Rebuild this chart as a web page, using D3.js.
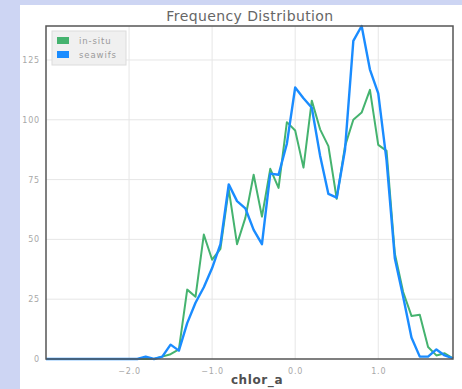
<!DOCTYPE html>
<html>
<head>
<meta charset="utf-8">
<script src="https://cdn.jsdelivr.net/npm/d3@7"></script>
<style>
  body { margin: 0; background: #cdd5f3; }
  svg { display: block; }
</style>
</head>
<body>
<svg></svg>
<script>
// bin centres -3.0 .. 1.9, step 0.1
const bins = [
  -3.0, -2.9, -2.8, -2.7, -2.6, -2.5, -2.4, -2.3, -2.2, -2.1,
  -2.0, -1.9, -1.8, -1.7, -1.6, -1.5, -1.4, -1.3, -1.2, -1.1,
  -1.0, -0.9, -0.8, -0.7, -0.6, -0.5, -0.4, -0.3, -0.2, -0.1,
  0.0, 0.1, 0.2, 0.3, 0.4, 0.5, 0.6, 0.7, 0.8, 0.9,
  1.0, 1.1, 1.2, 1.3, 1.4, 1.5, 1.6, 1.7, 1.8, 1.9,
];
const inSitu = [
  0, 0, 0, 0, 0, 0, 0, 0, 0, 0,
  0, 0, 0, 0, 1, 2, 4, 29, 26, 52,
  41.5, 46, 71, 48, 59, 77, 59.5, 79.5, 71.5, 99,
  95.5, 80, 108, 96, 89, 67, 89, 100, 103, 112.5,
  89.5, 87, 44, 28, 18, 18.5, 5, 1.5, 2.4, 0.3,
];
const seawifs = [
  0, 0, 0, 0, 0, 0, 0, 0, 0, 0,
  0, 0, 1, 0, 1, 6, 3.5, 15, 23.5, 30,
  38, 48, 73, 66, 63, 54, 48, 77.5, 77, 90,
  113.5, 109, 105, 85, 69, 67.5, 87.5, 133, 139.2, 121,
  111, 83, 42, 26, 9, 1, 1, 4, 1.5, 0.3,
];
const seriesNames = ['in-situ', 'seawifs'];
const seriesColors = ['#45b36f', '#1a8cff'];
const xTicks = [-2, -1, 0, 1];
const yTicks = [0, 25, 50, 75, 100, 125];

const width = 462;
const height = 389;
const margin = { top: 26, right: 9, bottom: 30, left: 46 };
const font = 'DejaVu Sans, sans-serif';

const svg = d3.select('svg')
  .attr('width', width)
  .attr('height', height);

// white panel over the textured page
svg.append('rect')
  .attr('x', 20).attr('y', 5)
  .attr('width', width - 20).attr('height', height - 5)
  .attr('fill', '#fff');

const x = d3.scaleLinear()
  .domain([-3.0, 1.9])
  .range([margin.left, width - margin.right]);
const y = d3.scaleLinear()
  .domain([0, d3.max(seawifs)])
  .range([height - margin.bottom, margin.top]);

// grid
svg.append('g')
  .selectAll('line')
  .data(xTicks)
  .join('line')
  .attr('x1', d => x(d)).attr('x2', d => x(d))
  .attr('y1', y.range()[0]).attr('y2', y.range()[1])
  .attr('stroke', '#e6e6e6');
svg.append('g')
  .selectAll('line')
  .data(yTicks.slice(1))
  .join('line')
  .attr('x1', x.range()[0]).attr('x2', x.range()[1])
  .attr('y1', d => y(d)).attr('y2', d => y(d))
  .attr('stroke', '#e6e6e6');

// axes
const xAxis = svg.append('g')
  .attr('transform', `translate(0,${y.range()[0]})`)
  .call(d3.axisBottom(x).tickValues(xTicks).tickSize(0).tickPadding(9)
    .tickFormat(d => d3.format('.1f')(d).replace('-', '\u2212')));
const yAxis = svg.append('g')
  .attr('transform', `translate(${x.range()[0]},0)`)
  .call(d3.axisLeft(y).tickValues(yTicks).tickSize(0).tickPadding(6));
[xAxis, yAxis].forEach(a => {
  a.select('.domain').remove();
  a.selectAll('text')
    .attr('fill', '#a8a8a8')
    .style('font-family', font)
    .style('font-size', '8px')
    .style('letter-spacing', '0.8px');
});

// lines
const line = d3.line()
  .x((d, i) => x(bins[i]))
  .y(d => y(d));
[inSitu, seawifs].forEach((s, k) => {
  svg.append('path')
    .datum(s)
    .attr('d', line)
    .attr('fill', 'none')
    .attr('stroke', seriesColors[k])
    .attr('stroke-width', k === 1 ? 2.4 : 2)
    .attr('stroke-linejoin', 'round');
});

// frame
svg.append('rect')
  .attr('x', x.range()[0]).attr('y', y.range()[1])
  .attr('width', x.range()[1] - x.range()[0])
  .attr('height', y.range()[0] - y.range()[1])
  .attr('fill', 'none')
  .attr('stroke', '#555')
  .attr('stroke-width', 1.5);

// title + axis label
svg.append('text')
  .attr('x', 250).attr('y', 21)
  .attr('text-anchor', 'middle')
  .attr('fill', '#666')
  .style('font-family', font)
  .style('font-size', '14px')
  .style('letter-spacing', '0.4px')
  .text('Frequency Distribution');
svg.append('text')
  .attr('x', 257).attr('y', 384)
  .attr('text-anchor', 'middle')
  .attr('fill', '#505050')
  .style('font-family', font)
  .style('font-size', '12px')
  .style('font-weight', 'bold')
  .style('letter-spacing', '0.6px')
  .text('chlor_a');

// legend
const legend = svg.append('g').attr('transform', 'translate(52,31)');
legend.append('rect')
  .attr('width', 74).attr('height', 34)
  .attr('fill', '#f0f0f0')
  .attr('stroke', '#dcdcdc');
seriesNames.forEach((name, k) => {
  legend.append('rect')
    .attr('x', 5).attr('y', 6 + k * 14)
    .attr('width', 12).attr('height', 7)
    .attr('fill', seriesColors[k]);
  legend.append('text')
    .attr('x', 27).attr('y', 13 + k * 14)
    .attr('fill', '#9a9a9a')
    .style('font-family', font)
    .style('font-size', '8.5px')
    .style('letter-spacing', '0.9px')
    .text(name);
});
</script>
</body>
</html>
